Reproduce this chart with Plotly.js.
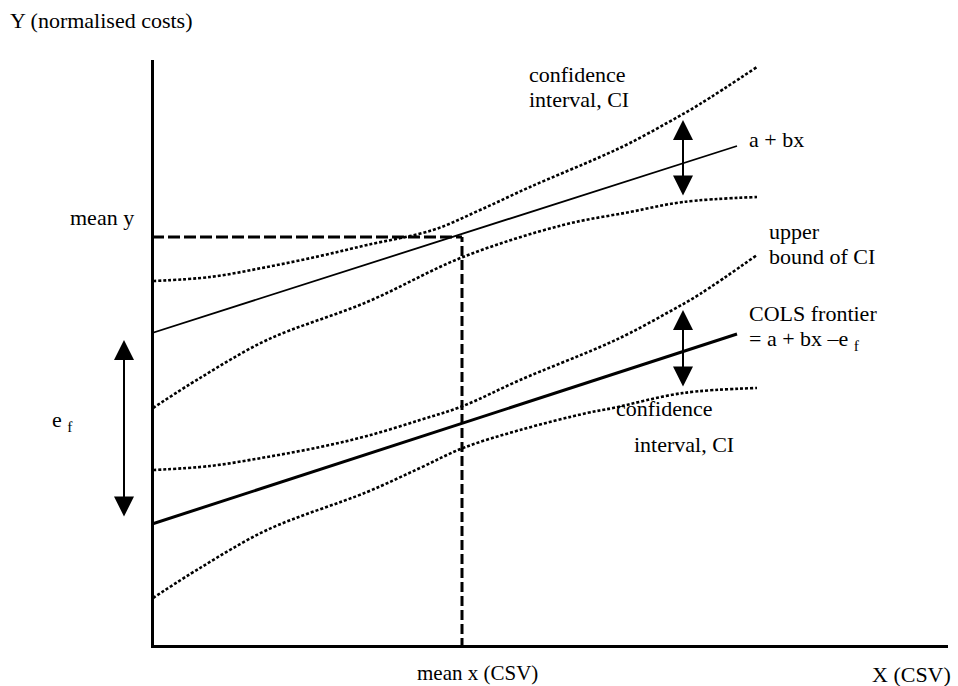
<!DOCTYPE html>
<html>
<head>
<meta charset="utf-8">
<script src="https://cdn.plot.ly/plotly-3.0.1.min.js"></script>
<style>html,body{margin:0;padding:0;background:#fff;}#chart{width:958px;height:686px;}</style>
</head>
<body>
<div id="chart"></div>
<script>
// ---- data (arbitrary diagram units) ----
const regX = [0, 585];
const regY = [315, 502];            // a + bx
const colsX = [0, 585];
const colsY = [124, 314];           // a + bx - e_f

const ciUpperTopX = [1, 58, 115, 168, 215, 281, 328, 378, 448, 478, 515, 548, 605];
const ciUpperTopY = [367, 371, 381, 392, 403, 418, 438, 461, 491, 505, 525, 544, 581];
const ciUpperBotX = [1, 48, 115, 215, 311, 411, 478, 531, 605];
const ciUpperBotY = [240, 270, 308, 346, 391, 423, 436, 446, 451];

const ciLowerTopX = [1, 58, 115, 168, 215, 268, 311, 368, 448, 478, 515, 548, 605];
const ciLowerTopY = [178, 182, 191, 201, 212, 228, 242, 268, 301, 315, 335, 354, 393];
const ciLowerBotX = [1, 48, 115, 215, 268, 311, 368, 435, 461, 531, 605];
const ciLowerBotY = [50, 80, 118, 156, 180, 200, 218, 235, 240, 255, 260];

const meanX = 310;
const meanY = 411;

const arrowUpperX = 531, arrowUpperTop = 528, arrowUpperBot = 451;
const arrowLowerX = 531, arrowLowerTop = 338, arrowLowerBot = 260;
const efTop = 308, efBot = 130;

// ---- layout helpers ----
const L = 154, R = 948, T = 60, B = 645;
function px(x) { return (x - L) / (R - L); }
function py(y) { return (B - y) / (B - T); }

const FONT = {family: 'Liberation Serif', size: 22, color: '#000'};
const FONT_SM = {family: 'Liberation Serif', size: 21, color: '#000'};
const dotted = {color: '#000', width: 2.6, dash: '3px,2px', shape: 'spline', smoothing: 1};

const traces = [
  {x: ciUpperTopX, y: ciUpperTopY, mode: 'lines', line: dotted},
  {x: ciUpperBotX, y: ciUpperBotY, mode: 'lines', line: dotted},
  {x: ciLowerTopX, y: ciLowerTopY, mode: 'lines', line: dotted},
  {x: ciLowerBotX, y: ciLowerBotY, mode: 'lines', line: dotted},
  {x: regX, y: regY, mode: 'lines', line: {color: '#000', width: 1.8}},
  {x: colsX, y: colsY, mode: 'lines', line: {color: '#000', width: 3}},
  {x: [0, meanX], y: [meanY, meanY], mode: 'lines', line: {color: '#000', width: 3, dash: '12px,4px'}},
  {x: [meanX, meanX], y: [0, meanY], mode: 'lines', line: {color: '#000', width: 3, dash: '10px,4px'}}
];

function txt(text, x, y, xanchor, font) {
  return {text: text, xref: 'paper', yref: 'paper', x: px(x), y: py(y),
          xanchor: xanchor || 'left', yanchor: 'middle', showarrow: false, font: font || FONT};
}
function dblArrow(x, yTop, yBot) {
  return {text: '', x: x, y: yTop, ax: x, ay: yBot, xref: 'x', yref: 'y', axref: 'x', ayref: 'y',
          showarrow: true, arrowside: 'end+start', arrowhead: 2, startarrowhead: 2,
          arrowsize: 2, startarrowsize: 2, arrowwidth: 2, arrowcolor: '#000', standoff: 0, startstandoff: 0};
}

const annotations = [
  txt('Y (normalised costs)', 8, 20),
  txt('confidence', 527, 74),
  txt('interval, CI', 527, 100),
  txt('a + bx', 747, 140),
  txt('mean y', 68, 217),
  txt('upper', 767, 232),
  txt('bound of CI', 767, 256),
  txt('COLS frontier', 747, 313),
  txt('= a + bx \u2013e <sub>f</sub>', 747, 340),
  txt('e <sub>f</sub>', 50, 421),
  txt('confidence', 614, 408),
  txt('interval, CI', 632, 444),
  txt('mean x (CSV)', 477, 673, 'center', FONT_SM),
  txt('X (CSV)', 911, 674, 'center'),
  dblArrow(arrowUpperX, arrowUpperTop, arrowUpperBot),
  dblArrow(arrowLowerX, arrowLowerTop, arrowLowerBot),
  {text: '', xref: 'paper', yref: 'y', x: px(124), y: efTop, axref: 'pixel', ax: 0, ayref: 'y', ay: efBot,
   showarrow: true, arrowside: 'end+start', arrowhead: 2, startarrowhead: 2,
   arrowsize: 2, startarrowsize: 2, arrowwidth: 2, arrowcolor: '#000', standoff: 0, startstandoff: 0}
];

const layout = {
  width: 958, height: 686,
  margin: {l: L, r: 958 - R, t: T, b: 686 - B, pad: 0},
  paper_bgcolor: '#fff', plot_bgcolor: '#fff',
  font: FONT,
  showlegend: false,
  xaxis: {range: [2, 796], showline: true, linewidth: 3, linecolor: '#000', showgrid: false,
          zeroline: false, showticklabels: false, ticks: '', fixedrange: true},
  yaxis: {range: [3, 588], showline: true, linewidth: 3, linecolor: '#000', showgrid: false,
          zeroline: false, showticklabels: false, ticks: '', fixedrange: true},
  annotations: annotations
};

Plotly.newPlot('chart', traces, layout, {displayModeBar: false, staticPlot: true});
</script>
</body>
</html>
